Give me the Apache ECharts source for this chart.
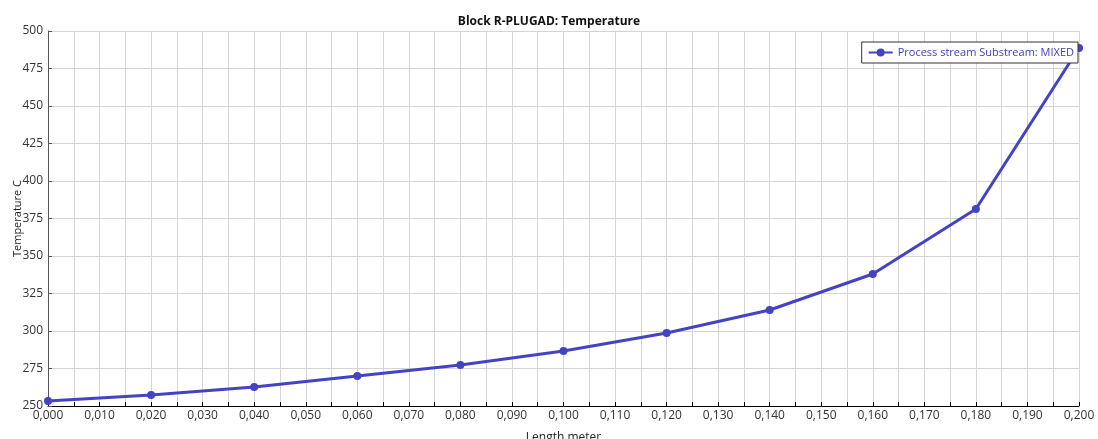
<!DOCTYPE html>
<html>
<head>
<meta charset="utf-8">
<script src="https://cdn.jsdelivr.net/npm/echarts@6/dist/echarts.min.js"></script>
<style>
  html, body { margin: 0; padding: 0; background: #fff; }
  #chart { width: 1098px; height: 439px; }
</style>
</head>
<body>
<div id="chart"></div>
<script>
// Reactor length (m) and stream temperature (C) along R-PLUGAD
const lengths = [0.000, 0.020, 0.040, 0.060, 0.080, 0.100, 0.120, 0.140, 0.160, 0.180, 0.200];
const temperatures = [253.3, 257.3, 262.7, 270.0, 277.3, 286.7, 298.7, 314.0, 338.0, 381.3, 488.7];
const seriesName = 'Process stream Substream: MIXED';
const chartTitle = 'Block R-PLUGAD: Temperature';
const xAxisName = 'Length meter';
const yAxisName = 'Temperature C';

const font = 'Segoe UI, "Open Sans", "DejaVu Sans", sans-serif';
const lineColor = '#4343c4';

const chart = echarts.init(document.getElementById('chart'), null, { renderer: 'canvas' });
chart.setOption({
  animation: false,
  title: {
    text: chartTitle,
    left: 'center',
    top: 11,
    textStyle: { fontFamily: font, fontSize: 12, fontWeight: 'bold', color: '#111' }
  },
  legend: {
    data: [seriesName],
    right: 20,
    top: 42,
    orient: 'horizontal',
    backgroundColor: '#fff',
    borderColor: '#333',
    borderWidth: 1,
    borderRadius: 0,
    padding: [5, 4, 5, 6],
    itemWidth: 24,
    itemHeight: 10,
    itemGap: 4,
    textStyle: { fontFamily: font, fontSize: 11, color: '#4040b8' }
  },
  grid: { left: 48, right: 19, top: 31, bottom: 33, outerBoundsMode: 'none' },
  xAxis: {
    type: 'value',
    min: 0,
    max: 0.2,
    interval: 0.005,
    name: xAxisName,
    nameLocation: 'middle',
    nameGap: 26,
    nameMoveOverlap: false,
    nameTextStyle: { fontFamily: font, fontSize: 12, color: '#222' },
    axisLine: { show: true, lineStyle: { color: '#000', width: 1 } },
    axisTick: { show: true, inside: true, length: 4, lineStyle: { color: '#000' } },
    axisLabel: {
      fontFamily: font, fontSize: 12, color: '#333', margin: 4,
      formatter: function (v) {
        const m = Math.round(v * 1000);
        if (m % 10 !== 0) return '';
        return (m / 1000).toFixed(3).replace('.', ',');
      }
    },
    splitLine: { show: true, lineStyle: { color: '#d4d4d4', width: 1 } }
  },
  yAxis: {
    type: 'value',
    min: 250,
    max: 500,
    interval: 25,
    name: yAxisName,
    nameLocation: 'middle',
    nameGap: 25,
    nameMoveOverlap: false,
    nameRotate: 90,
    nameTextStyle: { fontFamily: font, fontSize: 11, color: '#222' },
    axisLine: { show: true, lineStyle: { color: '#555', width: 1 } },
    axisTick: { show: true, inside: true, length: 4, lineStyle: { color: '#555' } },
    axisLabel: { fontFamily: font, fontSize: 12, color: '#333', margin: 5 },
    splitLine: { show: true, lineStyle: { color: '#d4d4d4', width: 1 } }
  },
  series: [{
    name: seriesName,
    type: 'line',
    data: lengths.map((x, i) => [x, temperatures[i]]),
    symbol: 'circle',
    symbolSize: 8,
    showAllSymbol: true,
    clip: false,
    lineStyle: { color: lineColor, width: 3 },
    itemStyle: { color: lineColor }
  }]
});
</script>
</body>
</html>
